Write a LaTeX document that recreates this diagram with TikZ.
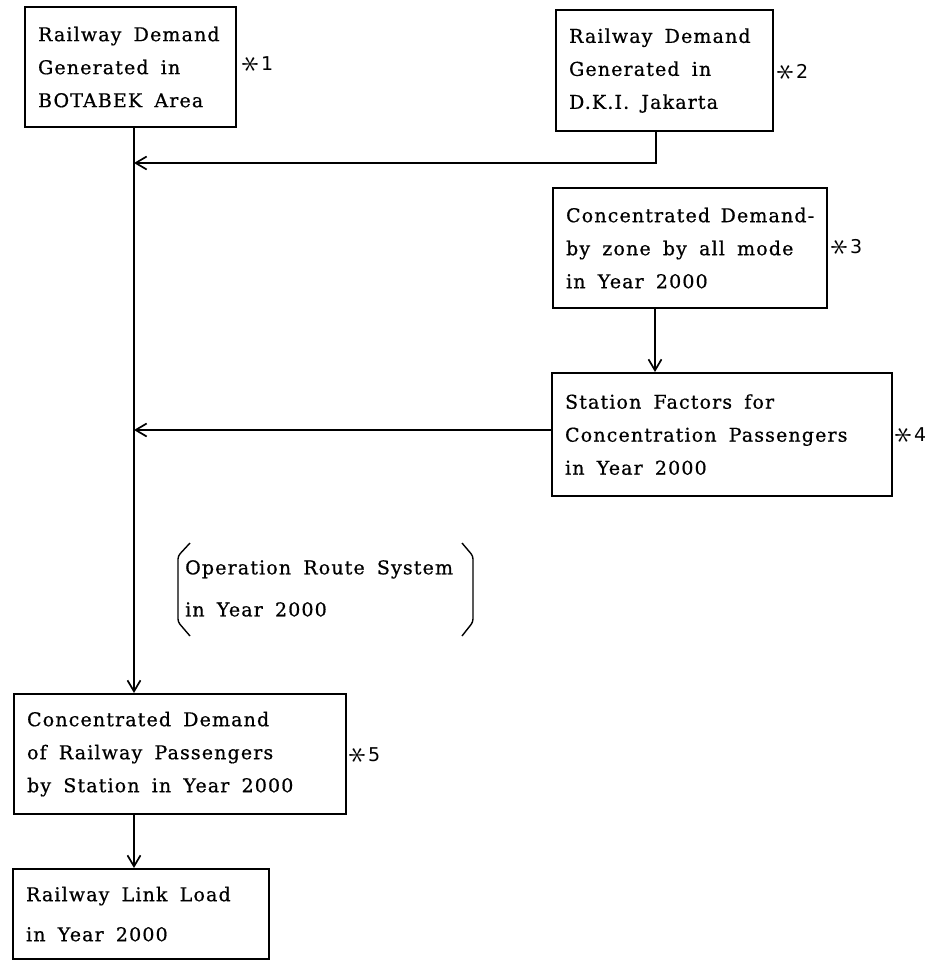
\documentclass[tikz,border=0pt]{standalone}
\usepackage{fontspec}
\setmainfont{DejaVu Serif}[LetterSpace=6,WordSpace=1.7,FakeBold=0.7]
\newfontfamily\notefont{DejaVu Sans}
\usetikzlibrary{arrows.meta}

% six-armed reference mark with a horizontal arm
\newcommand\refmark{\raisebox{-1.5pt}{\rotatebox[origin=c]{90}{\scalebox{2.1}{$\ast$}}}\kern2pt}

\begin{document}
\begin{tikzpicture}[x=1pt,y=-1pt,
  box/.style={draw, line width=2.2pt, anchor=north west, inner xsep=13pt,
    inner ysep=0pt, align=flush left, font=\fontsize{19}{33}\selectfont},
  flow/.style={line width=1.9pt,
    -{Straight Barb[length=11pt,width=13pt,line width=1.7pt]}},
  note/.style={anchor=west, inner sep=0pt, font=\notefont\fontsize{19}{20}\selectfont},
  bracket/.style={line width=1.4pt, rounded corners=3pt},
  plain/.style={anchor=north west, inner sep=0pt, align=flush left,
    font=\fontsize{19}{42}\selectfont}
]
\fill[white] (0,0) rectangle (934,960);
\useasboundingbox (0,0) rectangle (934,960);

% process boxes
\node[box, minimum width=211pt, minimum height=120pt, text width=185pt] (b1) at (24,6)
  {Railway~Demand\\Generated~in\\BOTABEK~Area};
\node[box, minimum width=217pt, minimum height=121pt, text width=191pt] (b2) at (555,9)
  {Railway~Demand\\Generated~in\\D.K.I.~Jakarta};
\node[box, minimum width=274pt, minimum height=120pt, text width=248pt] (b3) at (552,187)
  {Concentrated~Demand-\\by~zone~by~all~mode\\in~Year~2000};
\node[box, minimum width=340pt, minimum height=123pt, text width=314pt] (b4) at (551,372)
  {Station~Factors~for\\Concentration~Passengers\\in~Year~2000};
\node[box, minimum width=332pt, minimum height=120pt, text width=306pt] (b5) at (13,693)
  {Concentrated~Demand\\of~Railway~Passengers\\by~Station~in~Year~2000};
\node[box, minimum width=256pt, minimum height=90pt, text width=230pt,
  font=\fontsize{19}{40}\selectfont] (b6) at (12,868)
  {Railway~Link~Load\\in~Year~2000};

% reference marks
\node[note] (n1) at (242,64) {\refmark1};
\node[note] (n2) at (777,72) {\refmark2};
\node[note] (n3) at (831,247) {\refmark3};
\node[note] (n4) at (895,435) {\refmark4};
\node[note] (n5) at (349,755) {\refmark5};

% bracketed condition
\node[plain] (ors) at (185,560) {Operation Route System\\in Year 2000};
\draw[bracket] (190,543) -- (178,556) -- (178,622) -- (190,636);
\draw[bracket] (462,543) -- (473,556) -- (473,622) -- (462,636);

% routing points
\coordinate (trunk) at (134,0);
\coordinate (j2) at (656,163);
\coordinate (c34) at (655,0);
\coordinate (m4) at (0,430);

% connectors
\draw[flow] (b1.south -| trunk) -- (b5.north -| trunk);
\draw[flow] (b2.south -| j2) -- (j2) -- (j2 -| trunk);
\draw[flow] (b3.south -| c34) -- (b4.north -| c34);
\draw[flow] (b4.west |- m4) -- (m4 -| trunk);
\draw[flow] (b5.south -| trunk) -- (b6.north -| trunk);
\end{tikzpicture}
\end{document}
